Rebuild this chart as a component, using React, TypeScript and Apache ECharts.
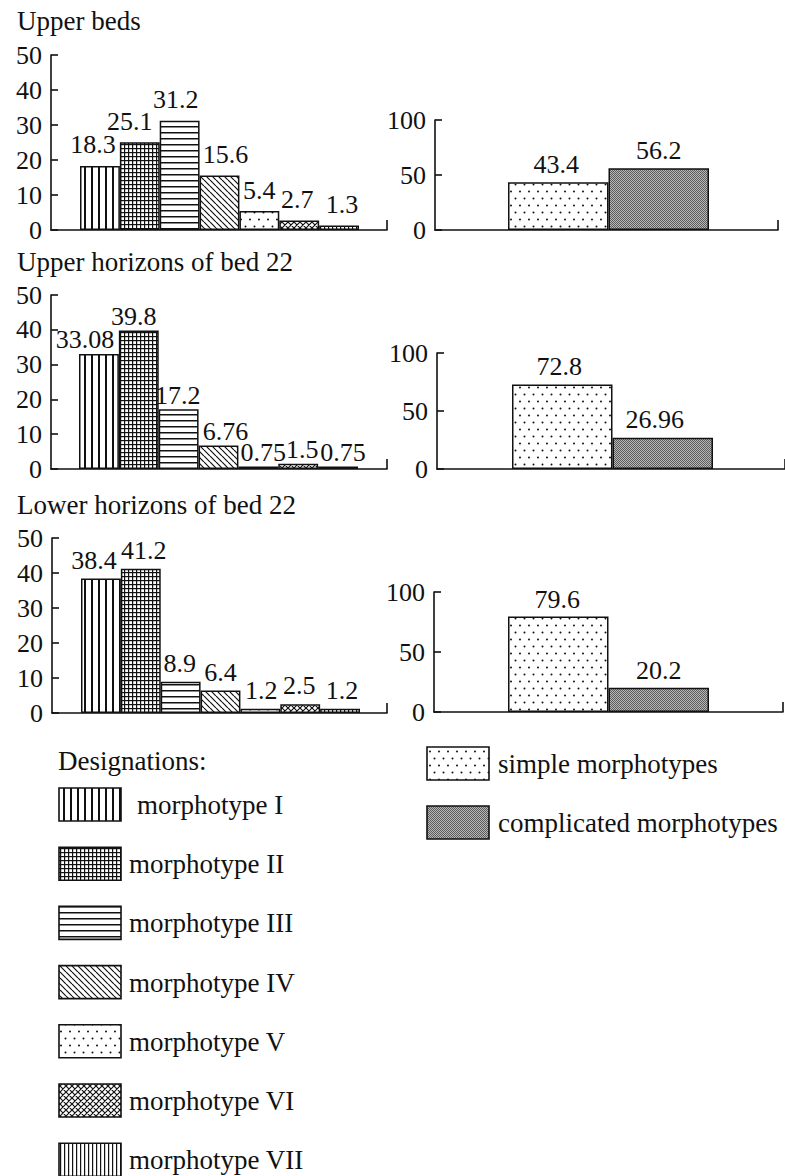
import React, { useEffect, useRef } from "react";
import * as echarts from "echarts";

// ---------------- data ----------------
const panelTitles = ["Upper beds", "Upper horizons of bed 22", "Lower horizons of bed 22"];
const morphotypes = [
  "morphotype I",
  "morphotype II",
  "morphotype III",
  "morphotype IV",
  "morphotype V",
  "morphotype VI",
  "morphotype VII",
];
const groupNames = ["simple morphotypes", "complicated morphotypes"];

const upperBeds = [18.3, 25.1, 31.2, 15.6, 5.4, 2.7, 1.3];
const upperHorizons22 = [33.08, 39.8, 17.2, 6.76, 0.75, 1.5, 0.75];
const lowerHorizons22 = [38.4, 41.2, 8.9, 6.4, 1.2, 2.5, 1.2];

const upperBedsGroups = [43.4, 56.2];
const upperHorizons22Groups = [72.8, 26.96];
const lowerHorizons22Groups = [79.6, 20.2];

const leftAxisMax = 50;
const leftAxisStep = 10;
const rightAxisMax = 100;
const rightAxisStep = 50;

// ---------------- style ----------------
const FONT = "'Liberation Serif', 'Times New Roman', serif";
const INK = "#111111";

type Fill = any;

function tile(w: number, h: number, draw: (ctx: CanvasRenderingContext2D) => void, bg = "#ffffff"): Fill {
  const c = document.createElement("canvas");
  c.width = w;
  c.height = h;
  const ctx = c.getContext("2d") as CanvasRenderingContext2D;
  ctx.fillStyle = bg;
  ctx.fillRect(0, 0, w, h);
  ctx.fillStyle = INK;
  ctx.strokeStyle = INK;
  draw(ctx);
  return { image: c, repeat: "repeat", imageWidth: w, imageHeight: h };
}

function makeFills() {
  const vertical = tile(7, 7, (ctx) => ctx.fillRect(0, 0, 2, 7));
  const grid = tile(4, 4, (ctx) => {
    ctx.fillRect(0, 0, 1.2, 4);
    ctx.fillRect(0, 0, 4, 1.2);
  });
  const horizontal = tile(6, 6, (ctx) => ctx.fillRect(0, 0, 6, 1.5));
  const diag = tile(6, 6, (ctx) => {
    ctx.lineWidth = 1.2;
    ctx.beginPath();
    for (const c of [-6, 0, 6]) {
      ctx.moveTo(c, 0);
      ctx.lineTo(c + 6, 6);
    }
    ctx.stroke();
  });
  const dots = tile(9, 14, (ctx) => {
    ctx.beginPath();
    ctx.arc(2.5, 2.5, 1.0, 0, Math.PI * 2);
    ctx.closePath();
    ctx.arc(7, 9.5, 1.0, 0, Math.PI * 2);
    ctx.fill();
  });
  const cross = tile(6, 6, (ctx) => {
    ctx.lineWidth = 1.2;
    ctx.beginPath();
    for (const c of [-6, 0, 6]) {
      ctx.moveTo(c, 0);
      ctx.lineTo(c + 6, 6);
      ctx.moveTo(c, 6);
      ctx.lineTo(c + 6, 0);
    }
    ctx.stroke();
  });
  const fineVertical = tile(4, 4, (ctx) => ctx.fillRect(0, 0, 1.2, 4));
  const gray = tile(
    2,
    2,
    (ctx) => {
      ctx.fillStyle = "#5e5e5e";
      ctx.fillRect(0, 0, 1, 1);
      ctx.fillRect(1, 1, 1, 1);
    },
    "#b6b6b6"
  );
  return {
    morpho: [vertical, grid, horizontal, diag, dots, cross, fineVertical],
    groups: [dots, gray],
  };
}

// layout of each panel (pixels)
const leftLayouts = [
  { L: 51, T: 55, B: 230, R: 387, B0: 80, B1: 359, dist: 8, shifts: [-7, -10, -4, 6, 0, -2, 3] },
  { L: 51, T: 295, B: 469, R: 387, B0: 79, B1: 358, dist: 1, shifts: [-14, -5, -1, 7, 5, 4, 5] },
  { L: 52, T: 538, B: 713, R: 387, B0: 81, B1: 360, dist: 5.5, shifts: [-7, 3, -1, 0, 1, -1, 2] },
];
const rightLayouts = [
  { L: 435, T: 120, B: 230, R: 778, B0: 508, B1: 709, dist: 4.5, shifts: [-2, 0] },
  { L: 437, T: 353, B: 469, R: 785, B0: 512, B1: 713, dist: 5.5, shifts: [-3, -8] },
  { L: 434, T: 592, B: 712, R: 783, B0: 508, B1: 709, dist: 4, shifts: [-1, 0] },
];

function buildOption() {
  const fills = makeFills();
  const lineStyle = { color: INK, width: 1.6 };
  const grids: any[] = [];
  const xAxes: any[] = [];
  const yAxes: any[] = [];
  const series: any[] = [];

  const panels = [
    { values: upperBeds, names: morphotypes, colors: fills.morpho, max: leftAxisMax, step: leftAxisStep, lay: leftLayouts[0] },
    { values: upperBedsGroups, names: groupNames, colors: fills.groups, max: rightAxisMax, step: rightAxisStep, lay: rightLayouts[0] },
    { values: upperHorizons22, names: morphotypes, colors: fills.morpho, max: leftAxisMax, step: leftAxisStep, lay: leftLayouts[1] },
    { values: upperHorizons22Groups, names: groupNames, colors: fills.groups, max: rightAxisMax, step: rightAxisStep, lay: rightLayouts[1] },
    { values: lowerHorizons22, names: morphotypes, colors: fills.morpho, max: leftAxisMax, step: leftAxisStep, lay: leftLayouts[2] },
    { values: lowerHorizons22Groups, names: groupNames, colors: fills.groups, max: rightAxisMax, step: rightAxisStep, lay: rightLayouts[2] },
  ];

  panels.forEach((p, k) => {
    const lay = p.lay;
    const n = p.values.length;
    const u = (lay.B1 - lay.B0) / n;
    const xMin = -0.5 - (lay.B0 - lay.L) / u;
    const xMax = n - 0.5 + (lay.R - lay.B1) / u;
    grids.push({
      left: lay.L,
      top: lay.T,
      width: lay.R - lay.L,
      height: lay.B - lay.T,
      containLabel: false,
      outerBoundsMode: "none",
    });
    xAxes.push({
      gridIndex: k,
      type: "value",
      min: xMin,
      max: xMax,
      axisLine: { show: true, onZero: false, lineStyle },
      axisTick: { show: true, inside: true, length: 10, customValues: [xMax], lineStyle },
      axisLabel: { show: false },
      splitLine: { show: false },
    });
    yAxes.push({
      gridIndex: k,
      type: "value",
      min: 0,
      max: p.max,
      interval: p.step,
      axisLine: { show: true, onZero: false, lineStyle },
      axisTick: { show: true, inside: true, length: 7, lineStyle },
      axisLabel: { show: true, color: INK, fontFamily: FONT, fontSize: 26, margin: 9 },
      splitLine: { show: false },
    });
    series.push({
      type: "bar",
      name: panelTitles[Math.floor(k / 2)],
      xAxisIndex: k,
      yAxisIndex: k,
      barWidth: u,
      itemStyle: { borderColor: INK, borderWidth: 1.5 },
      label: {
        show: true,
        position: "top",
        distance: lay.dist,
        color: INK,
        fontFamily: FONT,
        fontSize: 26,
        formatter: (d: any) => String(d.value[1]),
      },
      data: p.values.map((v, i) => ({
        name: p.names[i],
        value: [i, v],
        itemStyle: { color: p.colors[i] },
        label: { offset: [lay.shifts[i], 0] },
      })),
    });
  });

  const textStyle = (s: string, x: number, y: number, size = 27) => ({
    type: "text",
    x,
    y,
    style: { text: s, fill: INK, font: `${size}px ${FONT}`, textVerticalAlign: "middle", verticalAlign: "middle" },
  });

  const graphics: any[] = [];
  panelTitles.forEach((t, i) => graphics.push(textStyle(t, 17, [21, 262, 505][i])));
  graphics.push(textStyle("Designations:", 58, 761));
  morphotypes.forEach((m, i) => {
    const top = 788 + i * 59.2;
    graphics.push({
      type: "rect",
      shape: { x: 59, y: top, width: 62, height: 33 },
      style: { fill: fills.morpho[i], stroke: INK, lineWidth: 1.6 },
    });
    graphics.push(textStyle(m, i === 0 ? 137 : 129, top + 17));
  });
  groupNames.forEach((g, i) => {
    const top = 747 + i * 59;
    graphics.push({
      type: "rect",
      shape: { x: 427, y: top, width: 62, height: 33 },
      style: { fill: fills.groups[i], stroke: INK, lineWidth: 1.6 },
    });
    graphics.push(textStyle(g, 498, top + 17));
  });

  return {
    animation: false,
    backgroundColor: "#ffffff",
    grid: grids,
    xAxis: xAxes,
    yAxis: yAxes,
    series,
    graphic: graphics,
  };
}

export default function App() {
  const ref = useRef<HTMLDivElement>(null);
  useEffect(() => {
    if (!ref.current) return;
    const chart = echarts.init(ref.current, undefined, { renderer: "svg" });
    chart.setOption(buildOption() as any);
    return () => chart.dispose();
  }, []);
  return (
    <div
      ref={ref}
      style={{ position: "absolute", left: 0, top: 0, width: 785, height: 1176, background: "#ffffff" }}
    />
  );
}
